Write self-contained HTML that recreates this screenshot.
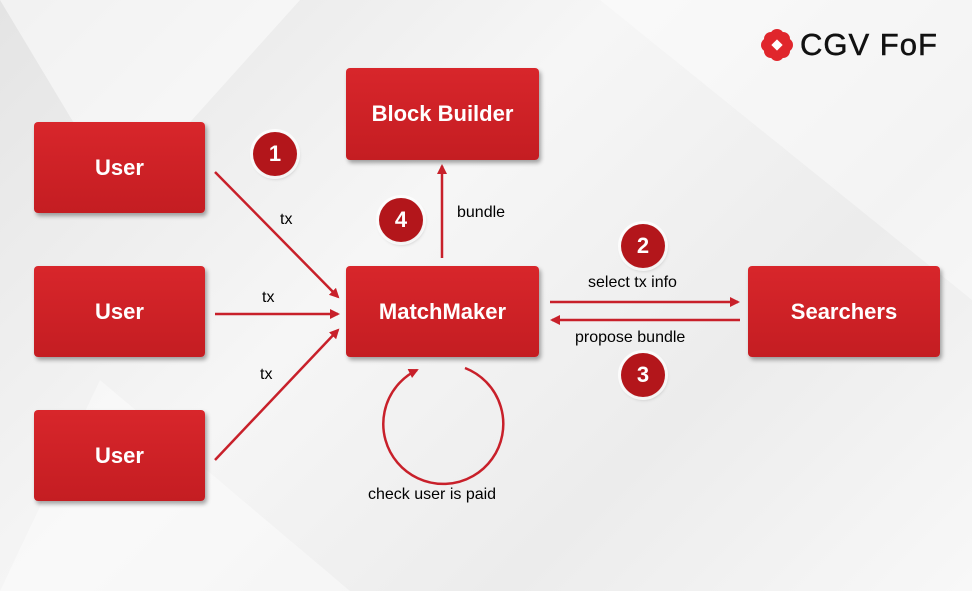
<!DOCTYPE html>
<html><head><style>
body{margin:0;width:972px;height:591px;overflow:hidden;font-family:"Liberation Sans",sans-serif;}
.bg{position:absolute;left:0;top:0;width:972px;height:591px;background:linear-gradient(135deg,#e4e4e4 0%,#f6f6f6 40%,#ececec 70%,#f8f8f8 100%);}
.box{position:absolute;background:linear-gradient(#d8262b,#c41d22);border-radius:4px;box-shadow:2px 3px 4px rgba(0,0,0,.35);color:#fff;font-weight:bold;font-size:22px;display:flex;align-items:center;justify-content:center;}
.c{position:absolute;width:44px;height:44px;border-radius:50%;background:#b3161b;color:#fff;font-weight:bold;font-size:22px;display:flex;align-items:center;justify-content:center;box-shadow:0 0 0 3px rgba(255,255,255,.8),1px 2px 4px rgba(0,0,0,.3);}
.t{position:absolute;font-size:16px;color:#000;white-space:nowrap;}
</style></head><body>
<div class="bg"></div>
<svg width="972" height="591" style="position:absolute;left:0;top:0">
<polygon points="0,0 300,0 120,200" fill="#fff" opacity=".5"/>
<polygon points="600,0 972,0 972,300" fill="#fff" opacity=".4"/>
<polygon points="0,591 350,591 100,380" fill="#fff" opacity=".4"/>
<defs><marker id="a" markerWidth="10" markerHeight="10" refX="8" refY="5" orient="auto" markerUnits="userSpaceOnUse"><path d="M0,0 L10,5 L0,10 z" fill="#c8202a"/></marker></defs>
<g stroke="#c8202a" stroke-width="2.5" fill="none">
<line x1="215" y1="172" x2="338" y2="297" marker-end="url(#a)"/>
<line x1="215" y1="314" x2="338" y2="314" marker-end="url(#a)"/>
<line x1="215" y1="460" x2="338" y2="330" marker-end="url(#a)"/>
<line x1="442" y1="258" x2="442" y2="166" marker-end="url(#a)"/>
<line x1="550" y1="302" x2="738" y2="302" marker-end="url(#a)"/>
<line x1="740" y1="320" x2="552" y2="320" marker-end="url(#a)"/>
<path d="M465,368 A60,60 0 1 1 417,370" marker-end="url(#a)"/>
</g>
</svg>
<div class="box" style="left:34px;top:122px;width:171px;height:91px">User</div>
<div class="box" style="left:34px;top:266px;width:171px;height:91px">User</div>
<div class="box" style="left:34px;top:410px;width:171px;height:91px">User</div>
<div class="box" style="left:346px;top:68px;width:193px;height:92px">Block Builder</div>
<div class="box" style="left:346px;top:266px;width:193px;height:91px">MatchMaker</div>
<div class="box" style="left:748px;top:266px;width:192px;height:91px">Searchers</div>
<div class="c" style="left:253px;top:132px">1</div>
<div class="c" style="left:379px;top:198px">4</div>
<div class="c" style="left:621px;top:224px">2</div>
<div class="c" style="left:621px;top:353px">3</div>
<div class="t" style="left:280px;top:211px">tx</div>
<div class="t" style="left:262px;top:289px">tx</div>
<div class="t" style="left:260px;top:366px">tx</div>
<div class="t" style="left:457px;top:204px">bundle</div>
<div class="t" style="left:588px;top:274px">select tx info</div>
<div class="t" style="left:575px;top:329px">propose bundle</div>
<div class="t" style="left:368px;top:486px">check user is paid</div>
<svg style="position:absolute;left:760px;top:28px" width="34" height="34" viewBox="0 0 34 34">
<g fill="#e0262c"><circle cx="17" cy="8" r="7"/><circle cx="17" cy="26" r="7"/><circle cx="8" cy="17" r="7"/><circle cx="26" cy="17" r="7"/><circle cx="11" cy="11" r="7"/><circle cx="23" cy="11" r="7"/><circle cx="11" cy="23" r="7"/><circle cx="23" cy="23" r="7"/></g>
<rect x="13" y="13" width="8" height="8" fill="#fff" transform="rotate(45 17 17)"/></svg>
<div style="position:absolute;left:800px;top:27px;font-size:31px;color:#111;letter-spacing:1px;-webkit-text-stroke:0.5px #111">CGV FoF</div>
</body></html>
